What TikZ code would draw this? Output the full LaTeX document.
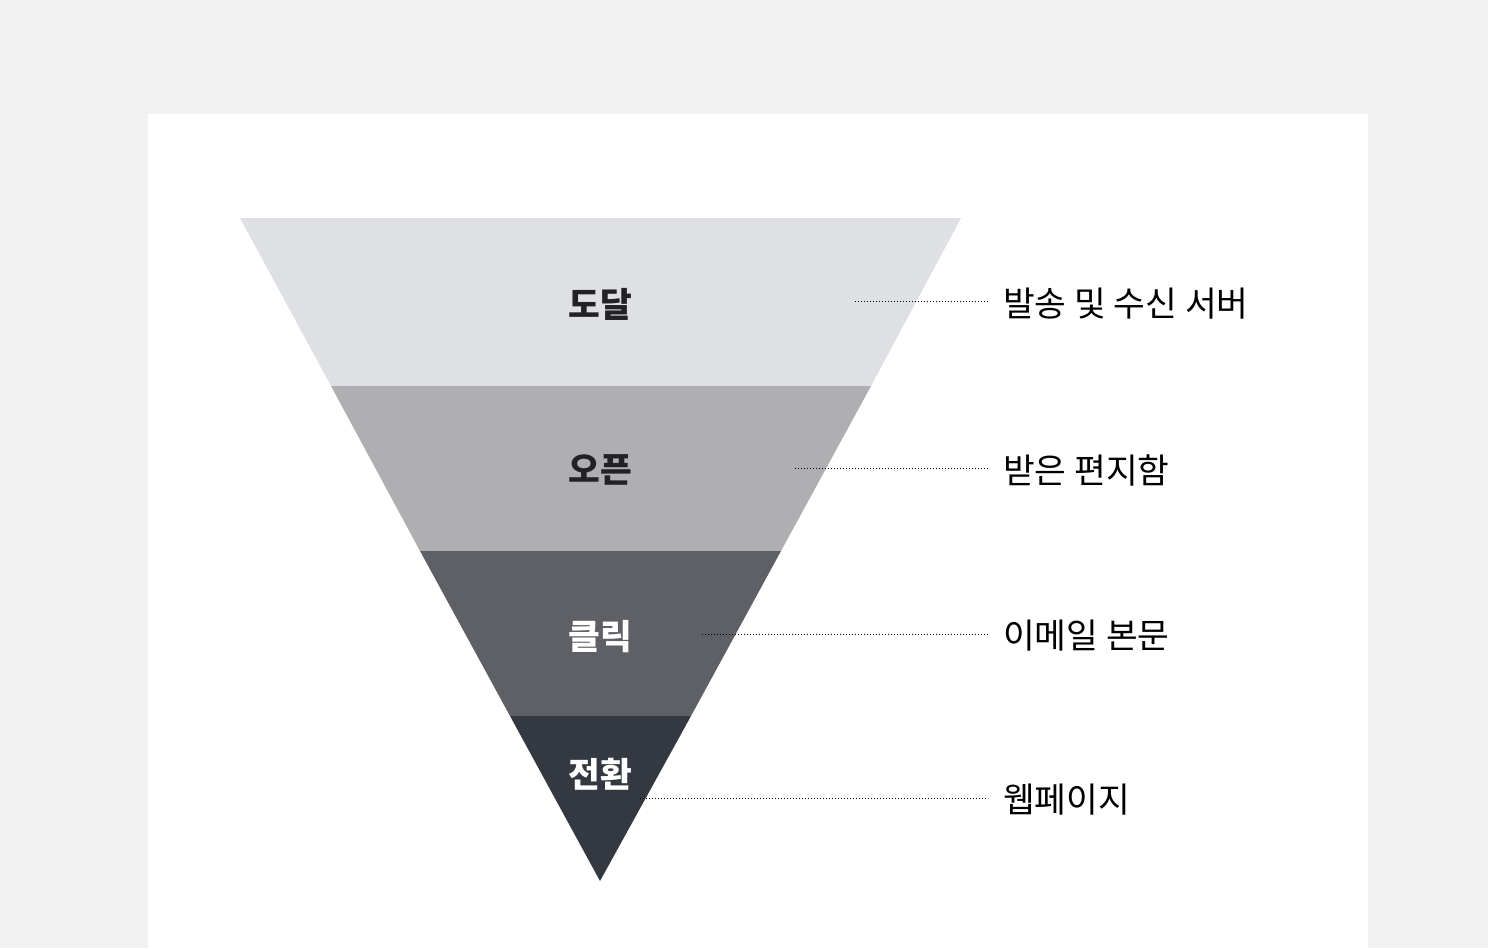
\documentclass[tikz,border=0pt]{standalone}
\usepackage{fontspec}
\setmainfont{Noto Sans CJK KR}
\usepackage{xcolor}
\usetikzlibrary{positioning}

\definecolor{pagebg}{HTML}{F1F1F1}
\definecolor{bandA}{HTML}{DFE0E4}
\definecolor{bandB}{HTML}{AFAFB1}
\definecolor{bandC}{HTML}{5E6065}
\definecolor{bandD}{HTML}{343840}
\definecolor{inkdark}{HTML}{222226}

\begin{document}
\begin{tikzpicture}[
    x=1pt, y=-1pt,
    stage/.style={font=\fontsize{34.5}{38}\selectfont\bfseries, text=inkdark, inner sep=0pt},
    where/.style={font=\fontsize{34.5}{38}\selectfont, text=black, anchor=west, inner sep=0pt},
    leader/.style={dotted, line width=1pt, black}
]

% Background
\fill[pagebg] (0,0) rectangle (1488,948);
\fill[white] (148,114) rectangle (1368,948);
\useasboundingbox (0,0) rectangle (1488,948);

% Funnel bands
\fill[bandA] (240,218) -- (961,218) -- (871,386) -- (331,386) -- cycle;
\fill[bandB] (331,386) -- (871,386) -- (781,551) -- (420,551) -- cycle;
\fill[bandC] (420,551) -- (781,551) -- (691,716) -- (510,716) -- cycle;
\fill[bandD] (510,716) -- (691,716) -- (600,881) -- cycle;

% Nodes
\node[stage] (reach) at (600,304) {도달};
\node[stage] (open) at (600,470) {오픈};
\node[stage, text=white] (click) at (600,637) {클릭};
\node[stage, text=white] (convert) at (600,774) {전환};

\node[where] (server) at (1003,304) {발송 및 수신 서버};
\node[where] (inbox) at (1003,470) {받은 편지함};
\node[where] (body) at (1003,636) {이메일 본문};
\node[where] (web) at (1003,800) {웹페이지};

% Leaders
\coordinate (p1) at (855,301);
\coordinate (p2) at (795,468);
\coordinate (p3) at (702,634);
\coordinate (p4) at (640,798);
\draw[leader] (p1) -- ([xshift=-15pt]server.west |- p1);
\draw[leader] (p2) -- ([xshift=-15pt]inbox.west |- p2);
\draw[leader] (p3) -- ([xshift=-15pt]body.west |- p3);
\draw[leader] (p4) -- ([xshift=-15pt]web.west |- p4);

\end{tikzpicture}
\end{document}
